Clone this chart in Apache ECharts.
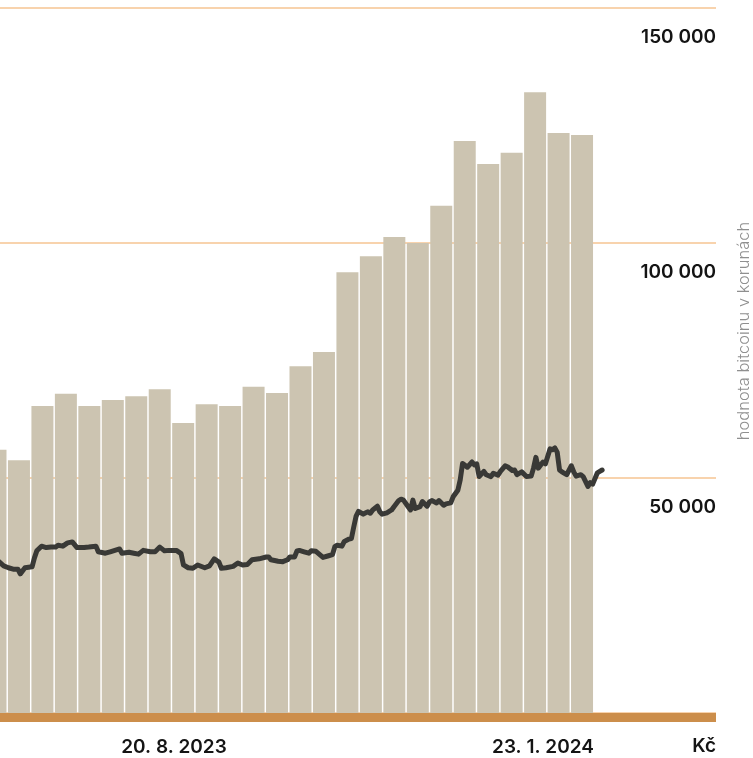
<!DOCTYPE html>
<html lang="cs">
<head>
<meta charset="utf-8">
<title>Hodnota bitcoinu</title>
<script src="https://cdn.jsdelivr.net/npm/echarts@6.0.0/dist/echarts.min.js"></script>
<style>
    html, body { margin: 0; padding: 0; background: #fff; }
    #chart { width: 753px; height: 758px; }
</style>
</head>
<body>
<div id="chart"></div>
<script>
'use strict';

const DAY = 864e5;
const START = Date.UTC(2023, 5, 7); // den 0 = 7. 6. 2023

// Sloupce (po sobě jdoucí období)
const barValues = [
    56000, 53800, 65300, 67900, 65300, 66600, 67400, 68900, 61700, 65700,
    65300, 69400, 68100, 73800, 76800, 93800, 97200, 101300, 100000, 107900,
    121700, 116800, 119200, 132100, 123400, 123000
];

// Čára – dny od 7. 6. 2023 a hodnoty
const lineDays = [
    0, 2, 4, 6, 8, 9, 11, 14, 15, 16, 18, 20, 22, 24, 25, 27, 29, 31, 33, 36,
    38, 41, 42, 45, 47, 49, 51, 52, 55, 57, 59, 61, 64, 66, 68, 70, 72, 75, 77, 78,
    80, 82, 84, 87, 89, 91, 93, 94, 96, 99, 101, 103, 105, 107, 110, 113, 114, 115, 118, 120,
    122, 123, 125, 126, 127, 129, 131, 132, 134, 137, 139, 141, 142, 143, 145, 146, 148, 149, 150, 151,
    152, 154, 155, 156, 157, 158, 160, 161, 162, 164, 166, 167, 169, 170, 171, 173, 174, 175, 176, 178,
    179, 181, 182, 183, 185, 186, 188, 189, 191, 192, 194, 195, 196, 197, 198, 200, 201, 202, 203, 205,
    206, 208, 209, 211, 212, 214, 215, 217, 218, 219, 221, 223, 225, 226, 227, 228, 230, 231, 233, 234,
    235, 236, 237, 238, 240, 242, 243, 244, 246, 247, 249, 250, 251, 253, 254, 255
];
const lineValues = [
    32200, 31300, 30900, 30600, 30600, 29600, 30900, 31100, 33000, 34500,
    35500, 35200, 35300, 35300, 35700, 35500, 36200, 36400, 35200, 35200,
    35300, 35500, 34300, 34000, 34300, 34600, 34900, 34000, 34200, 34000,
    33800, 34600, 34300, 34300, 35300, 34500, 34600, 34600, 33900, 31500,
    30900, 30800, 31500, 30900, 31300, 32800, 32100, 30800, 30900, 31200,
    31900, 31500, 31600, 32600, 32800, 33200, 33200, 32600, 32300, 32200,
    32600, 33200, 33200, 34500, 34600, 34300, 34000, 34500, 34400, 33100,
    33400, 33700, 35400, 35700, 35500, 36500, 37000, 37100, 39600, 41900,
    42900, 42300, 42600, 42800, 42500, 43200, 44000, 42800, 42300, 42600,
    43200, 43900, 45200, 45500, 45300, 43900, 43200, 45300, 43500, 43900,
    45000, 44000, 44900, 45200, 44700, 45200, 44200, 44500, 44700, 46000,
    47400, 49600, 53100, 52700, 52300, 53400, 52800, 53000, 50300, 51400,
    50700, 50300, 51000, 50600, 51400, 52600, 52400, 51600, 51700, 50700,
    51300, 50300, 50400, 52100, 54400, 52100, 53400, 53000, 56200, 56000,
    56400, 55500, 51700, 51300, 50700, 52600, 51300, 50400, 50700, 50300,
    48200, 49000, 48700, 51100, 51400, 51700
];

// Popisky osy X
const xTickDates = [Date.UTC(2023, 7, 20), Date.UTC(2024, 0, 23)];

const yMax = 150000;
const yStep = 50000;

const labelFont = 'Inter, sans-serif';
const labelColor = '#141414';

const formatThousands = v => String(v).replace(/\B(?=(\d{3})+(?!\d))/g, ' ');
const formatDay = v => {
    const d = new Date(START + Math.round(v) * DAY);
    return d.getUTCDate() + '. ' + (d.getUTCMonth() + 1) + '. ' + d.getUTCFullYear();
};

const bitcoinChart = function() {
    const el = document.getElementById('chart');
    if (!el || typeof echarts == 'undefined') return;

    const chart = echarts.init(el, null, { renderer: 'canvas' });

    const barData = barValues.map((v, i) => [i, v]);
    const lineData = lineDays.map((d, i) => [d, lineValues[i]]);
    const tickDays = xTickDates.map(t => (t - START) / DAY);

    chart.setOption({
        animation: false,
        grid: {
            left: 0, right: 37, top: 8, bottom: 45,
            containLabel: false,
            outerBoundsMode: 'none'
        },
        xAxis: [
            {
                // sloupce podle pořadí
                type: 'value',
                position: 'top',
                show: false,
                min: 0.192,
                max: 30.71
            },
            {
                // dny od začátku
                type: 'value',
                position: 'bottom',
                min: 0.44,
                max: 303.14,
                offset: 4.5,
                axisLine: {
                    show: true,
                    onZero: false,
                    lineStyle: { color: '#cc8e4b', width: 9, cap: 'butt' }
                },
                axisTick: { show: false },
                splitLine: { show: false },
                axisLabel: {
                    customValues: tickDays,
                    formatter: formatDay,
                    margin: 20,
                    color: labelColor,
                    fontFamily: labelFont,
                    fontWeight: 600,
                    fontSize: 19
                }
            }
        ],
        yAxis: {
            type: 'value',
            position: 'right',
            min: 0,
            max: yMax,
            interval: yStep,
            axisLine: { show: false },
            axisTick: { show: false },
            splitLine: { lineStyle: { color: '#f6c592', width: 1.5 } },
            axisLabel: {
                inside: true,
                margin: 0,
                align: 'right',
                verticalAlign: 'top',
                lineHeight: 58,
                color: labelColor,
                fontFamily: labelFont,
                fontWeight: 600,
                fontSize: 19,
                formatter: v => (v === 0 ? '' : formatThousands(v))
            }
        },
        series: [
            {
                name: 'sloupce',
                type: 'bar',
                xAxisIndex: 0,
                barWidth: 22,
                itemStyle: { color: '#ccc4b1' },
                data: barData
            },
            {
                name: 'hodnota bitcoinu',
                type: 'line',
                xAxisIndex: 1,
                showSymbol: false,
                symbol: 'none',
                lineStyle: { color: '#393936', width: 5, join: 'round', cap: 'round' },
                data: lineData,
                z: 5
            }
        ],
        graphic: [
            {
                type: 'text',
                right: 37,
                top: 737,
                style: { text: 'Kč', font: '600 19px Inter, sans-serif', fill: labelColor }
            },
            {
                type: 'text',
                x: 744,
                y: 331,
                rotation: Math.PI / 2,
                style: {
                    text: 'hodnota bitcoinu v korunách',
                    font: '300 16.5px Inter, sans-serif',
                    fill: '#8f8f8f',
                    align: 'center',
                    verticalAlign: 'middle'
                }
            }
        ]
    });
};

document.addEventListener('DOMContentLoaded', function() {
    bitcoinChart();
});
</script>
</body>
</html>
